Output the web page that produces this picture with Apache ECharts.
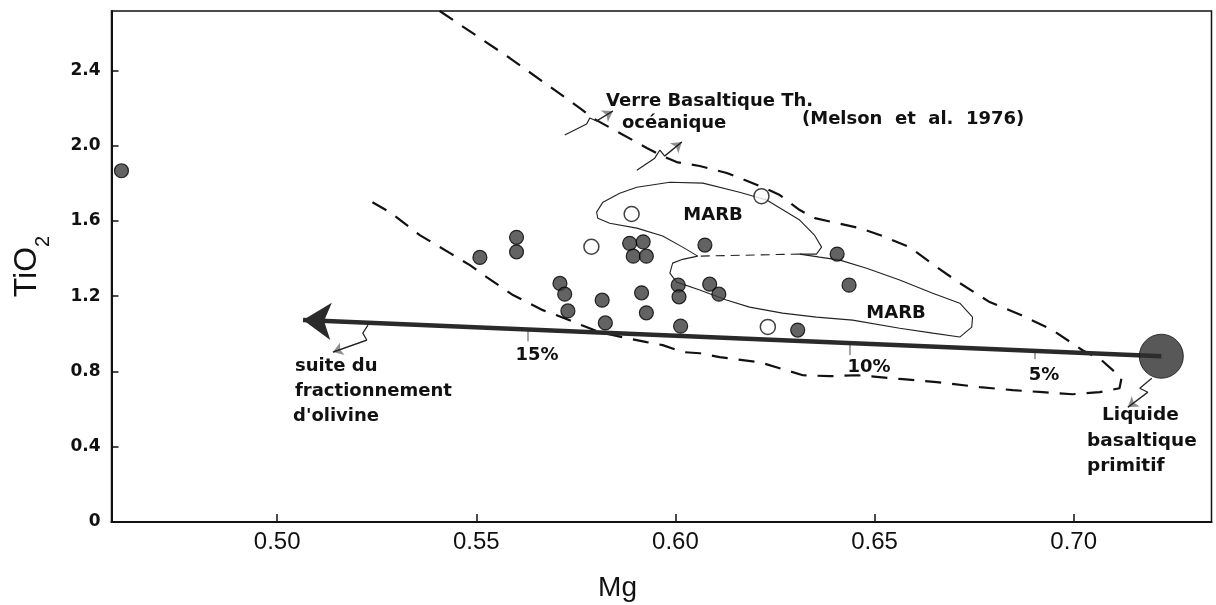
<!DOCTYPE html>
<html><head><meta charset="utf-8">
<script src="https://cdn.jsdelivr.net/npm/echarts@6/dist/echarts.min.js"></script>
<style>html,body{margin:0;padding:0;background:#fff}#c{width:1216px;height:605px}</style>
</head><body><div id="c"></div>
<script>
// ---------- data (Mg, TiO2) ----------
const yTickLabels = ['0', '0.4', '0.8', '1.2', '1.6', '2.0', '2.4'];
const filledPoints = [
  [0.4609,1.867],[0.5509,1.406],[0.5601,1.513],[0.5601,1.436],[0.5710,1.268],
  [0.5722,1.211],[0.5730,1.122],[0.5816,1.179],[0.5824,1.058],[0.5915,1.218],
  [0.5927,1.112],[0.5885,1.481],[0.5919,1.489],[0.5894,1.413],[0.5927,1.413],
  [0.6074,1.472],[0.6007,1.259],[0.6009,1.197],[0.6086,1.264],[0.6109,1.211],
  [0.6013,1.041],[0.6307,1.020],[0.6406,1.424],[0.6436,1.259]
];
const openPoints = [[0.5890,1.637],[0.5789,1.463],[0.6216,1.732],[0.6232,1.037]];
const primitiveLiquid = [[0.7220,0.881]];
const olivineArrow = [[0.7220,0.881],[0.5065,1.073]];
const pctTicks = [
  [[0.5630,1.024],[0.5630,0.961]],
  [[0.6437,0.951],[0.6437,0.887]],
  [[0.6902,0.910],[0.6902,0.865]]
];
const melsonEnvelope = [
  [0.5408,2.716],[0.5584,2.466],[0.5760,2.200],[0.5792,2.147],[0.5860,2.068],[0.5928,1.988],
  [0.5961,1.951],[0.6003,1.913],[0.6061,1.892],[0.6129,1.855],[0.6174,1.818],[0.6219,1.780],
  [0.6262,1.738],[0.6312,1.658],[0.6350,1.615],[0.6395,1.594],[0.6463,1.562],[0.6520,1.520],
  [0.6588,1.461],[0.6656,1.355],[0.6714,1.270],[0.6789,1.169],[0.6869,1.099],[0.6947,1.020],
  [0.7022,0.913],[0.7070,0.860],[0.7098,0.807],[0.7120,0.764],[0.7115,0.711],[0.7065,0.690],
  [0.6997,0.679],[0.6922,0.690],[0.6847,0.701],[0.6764,0.717],[0.6656,0.743],[0.6571,0.759],
  [0.6458,0.780],[0.6387,0.775],[0.6320,0.780],[0.6212,0.849],[0.6111,0.876],[0.6061,0.897],
  [0.6018,0.903],[0.5968,0.940],[0.5928,0.956],[0.5878,0.977],[0.5810,1.009],[0.5765,1.046],
  [0.5702,1.099],[0.5667,1.126],[0.5592,1.206],[0.5526,1.302],[0.5484,1.365],[0.5434,1.429],
  [0.5358,1.525],[0.5283,1.647],[0.5220,1.722]
];
const marbUpper = [
  [0.6056,1.413],[0.6018,1.461],[0.5968,1.520],[0.5903,1.562],[0.5835,1.588],[0.5805,1.615],
  [0.5802,1.647],[0.5818,1.700],[0.5860,1.747],[0.5903,1.779],[0.5986,1.806],[0.6069,1.801],
  [0.6161,1.753],[0.6229,1.711],[0.6312,1.605],[0.6349,1.525],[0.6367,1.461],[0.6354,1.424],
  [0.6312,1.424]
];
const marbLink = [[0.6312,1.424],[0.6056,1.413]];
const marbLower = [
  [0.6056,1.413],[0.6018,1.396],[0.5993,1.376],[0.5986,1.323],[0.6003,1.275],[0.6061,1.233],
  [0.6128,1.180],[0.6186,1.142],[0.6269,1.110],[0.6354,1.089],[0.6445,1.073],[0.6563,1.030],
  [0.6646,1.004],[0.6714,0.983],[0.6744,1.036],[0.6746,1.089],[0.6714,1.163],[0.6646,1.216],
  [0.6563,1.286],[0.6480,1.349],[0.6413,1.392],[0.6362,1.408],[0.6312,1.424]
];
const pointerSuite = [[0.5228,1.046],[0.5215,1.004],[0.5225,0.967],[0.5140,0.903]];
const pointerLiquide = [[0.7196,0.764],[0.7166,0.711],[0.7186,0.690],[0.7136,0.610]];
const pointerVerreA = [[0.5722,2.057],[0.5777,2.115],[0.5785,2.147],[0.5802,2.131],[0.5843,2.184]];
const pointerVerreB = [[0.5903,1.870],[0.5948,1.934],[0.5961,1.977],[0.5973,1.945],[0.6016,2.020]];

// ---------- chart ----------
const BOLD = '"DejaVu Sans", sans-serif';
const pointers = [pointerSuite, pointerLiquide, pointerVerreA, pointerVerreB];
function lineSeries(data, style, z) {
  return { type: 'line', data: data, showSymbol: false, symbol: 'none', silent: true,
           animation: false, z: z || 2, lineStyle: style, smooth: false };
}
const series = [];
series.push(lineSeries(melsonEnvelope, { color: '#111', width: 2.2, type: [16, 11] }));
series.push(lineSeries(marbUpper, { color: '#222', width: 1.1 }));
series.push(lineSeries(marbLower, { color: '#222', width: 1.1 }));
series.push(lineSeries(marbLink, { color: '#222', width: 1.1, type: [9, 6] }));
pointers.forEach(p => series.push(lineSeries(p, { color: '#222', width: 1.2 })));
series.push({
  type: 'lines', coordinateSystem: 'cartesian2d', silent: true, animation: false, z: 3,
  symbol: ['none', 'arrow'], symbolSize: [7, 10],
  lineStyle: { color: '#222', width: 1.2 },
  data: pointers.map(p => ({ coords: [p[p.length - 2], p[p.length - 1]] }))
});
series.push({
  type: 'lines', coordinateSystem: 'cartesian2d', silent: true, animation: false, z: 4,
  symbol: ['none', 'arrow'], symbolSize: [7, 28],
  lineStyle: { color: '#2a2a2a', width: 4.5, opacity: 1 },
  itemStyle: { color: '#2a2a2a' },
  data: [{ coords: olivineArrow }]
});
series.push({
  type: 'lines', coordinateSystem: 'cartesian2d', silent: true, animation: false, z: 4,
  lineStyle: { color: '#222', width: 1.6 },
  data: pctTicks.map(t => ({ coords: t }))
});
series.push({
  type: 'scatter', data: filledPoints, symbol: 'circle', symbolSize: 14, z: 6,
  itemStyle: { color: '#3c3c3c', borderColor: '#000', borderWidth: 1.2 }, animation: false
});
series.push({
  type: 'scatter', data: openPoints, symbol: 'circle', symbolSize: 15, z: 6,
  itemStyle: { color: '#fff', borderColor: '#111', borderWidth: 1.5 }, animation: false
});
series.push({
  type: 'scatter', data: primitiveLiquid, symbol: 'circle', symbolSize: 44, z: 6,
  itemStyle: { color: '#2e2e2e', borderColor: '#111', borderWidth: 1 }, animation: false
});

function txt(text, x, y, size, align, extra) {
  return Object.assign({ type: 'text', silent: true, z: 10,
    style: { text: text, x: x, y: y, fontFamily: BOLD, fontWeight: 'bold', fontSize: size,
             fill: '#111', align: align || 'left', verticalAlign: 'middle' } }, extra || {});
}
const graphic = [
  txt('Verre Basaltique Th.', 606, 101, 18),
  txt('océanique', 622, 123, 18),
  txt('(Melson  et  al.  1976)', 802, 119, 18),
  txt('MARB', 713, 215, 18, 'center'),
  txt('MARB', 896, 313, 18, 'center'),
  txt('15%', 537, 355, 18, 'center'),
  txt('10%', 869, 367, 18, 'center'),
  txt('5%', 1044, 375, 18, 'center'),
  txt('suite du', 295, 366, 18),
  txt('fractionnement', 295, 391, 18),
  txt("d'olivine", 293, 416, 18),
  txt('Liquide', 1102, 415, 18.5),
  txt('basaltique', 1087, 441, 18.5),
  txt('primitif', 1087, 466, 18.5)
];

const chart = echarts.init(document.getElementById('c'), null, { renderer: 'canvas' });
chart.setOption({
  backgroundColor: '#fff',
  animation: false,
  grid: { left: 111.5, right: 4.5, top: 11, bottom: 83, containLabel: false, outerBoundsMode: 'none',
          show: true, borderColor: '#111', borderWidth: 1.5, backgroundColor: 'transparent' },
  xAxis: {
    type: 'value', min: 0.4584, max: 0.7346, splitNumber: 5,
    name: 'Mg', nameLocation: 'middle', nameGap: 52,
    nameTextStyle: { fontFamily: '"Liberation Sans Narrow", "Liberation Sans", sans-serif', fontSize: 28,
                     color: '#111', padding: [0, 88, 0, 0] },
    axisLine: { show: true, lineStyle: { color: '#111', width: 2 } },
    axisTick: { show: true, inside: true, length: 8, lineStyle: { color: '#111', width: 1.5 } },
    splitLine: { show: false },
    axisLabel: {
      showMinLabel: false, showMaxLabel: false, margin: 8,
      fontFamily: '"Liberation Sans", sans-serif', fontSize: 24, color: '#111',
      formatter: v => Math.abs(v / 0.05 - Math.round(v / 0.05)) < 1e-6 ? v.toFixed(2) : ''
    }
  },
  yAxis: {
    type: 'value', min: 0, max: 2.716, interval: 0.4,
    name: 'TiO{sub|2}', nameLocation: 'middle', nameGap: 68, nameRotate: 90,
    nameTextStyle: { fontFamily: '"Liberation Sans Narrow", "Liberation Sans", sans-serif', fontSize: 32,
                     color: '#111', rich: { sub: { fontSize: 20, verticalAlign: 'bottom', color: '#111',
                     fontFamily: '"Liberation Sans Narrow", "Liberation Sans", sans-serif', padding: [0,0,-10,0] } } },
    axisLine: { show: true, lineStyle: { color: '#111', width: 2 } },
    axisTick: { show: true, inside: true, length: 7, lineStyle: { color: '#111', width: 1.5 } },
    splitLine: { show: false },
    axisLabel: {
      showMaxLabel: false, margin: 11,
      fontFamily: BOLD, fontWeight: 'bold', fontSize: 17, color: '#111',
      formatter: v => { const i = Math.round(v / 0.4); return Math.abs(v - i * 0.4) < 1e-6 ? (yTickLabels[i] || '') : ''; }
    }
  },
  series: series,
  graphic: graphic
});
</script></body></html>
